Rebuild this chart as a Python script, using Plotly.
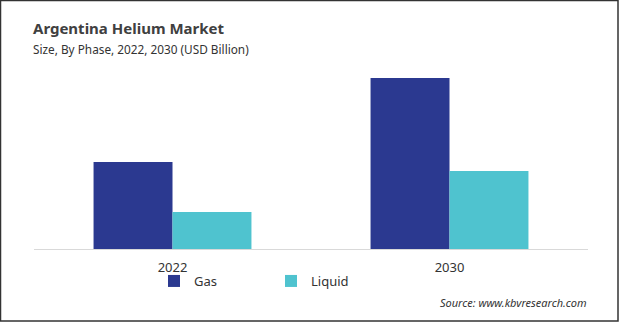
import plotly.graph_objects as go

years = ["2022", "2030"]
gas = [0.87, 1.71]
liquid = [0.37, 0.78]

W, H = 619, 322
L, R, T, B = 34, 31, 60, 73
pw, ph = W - L - R, H - T - B

def px(x):
    return (x - L) / pw

def py(y):
    return (H - B - y) / ph

fig = go.Figure()
fig.add_trace(go.Bar(name="Gas", x=years, y=gas, marker_color="#2B3990", marker_line_width=0))
fig.add_trace(go.Bar(name="Liquid", x=years, y=liquid, marker_color="#4FC3CF", marker_line_width=0))

font = "Noto Sans"
fig.update_layout(
    width=W, height=H,
    margin=dict(l=L, r=R, t=T, b=B),
    paper_bgcolor="white", plot_bgcolor="white",
    barmode="group", bargap=0.43, bargroupgap=0,
    font=dict(family=font, size=13, color="#333333"),
    xaxis=dict(showline=True, linecolor="#d9d9d9", linewidth=1, ticks="", ticklabelstandoff=6,
               tickfont=dict(size=13, color="#333333"), showgrid=False, zeroline=False),
    yaxis=dict(visible=False, range=[0, 1.89], showgrid=False, zeroline=False),
    showlegend=True,
    legend=dict(orientation="h", x=px(154), xanchor="left", y=py(281), yanchor="middle",
                font=dict(size=13, color="#333333"), entrywidth=72, entrywidthmode="pixels",
                bgcolor="rgba(0,0,0,0)"),
)

fig.add_annotation(
    text="<b>Argentina Helium Market</b><br><span style='font-size:11.8px;color:#333333'>"
         "Size, By Phase, 2022, 2030 (USD Billion)</span>",
    xref="paper", yref="paper", x=px(31), y=py(37), xanchor="left", yanchor="middle",
    align="left", showarrow=False, font=dict(family=font, size=15, color="#404040"))
fig.add_annotation(text="<i>Source: www.kbvresearch.com</i>", xref="paper", yref="paper",
                   x=px(589), y=py(302), xanchor="right", yanchor="middle", showarrow=False,
                   font=dict(family=font, size=11, color="#333333"))

fig.add_shape(type="rect", xref="paper", yref="paper", x0=px(0.5), x1=px(618), y0=py(0.5), y1=py(321),
              line=dict(color="#333333", width=1.5), layer="above")

fig.write_html("out.html")
